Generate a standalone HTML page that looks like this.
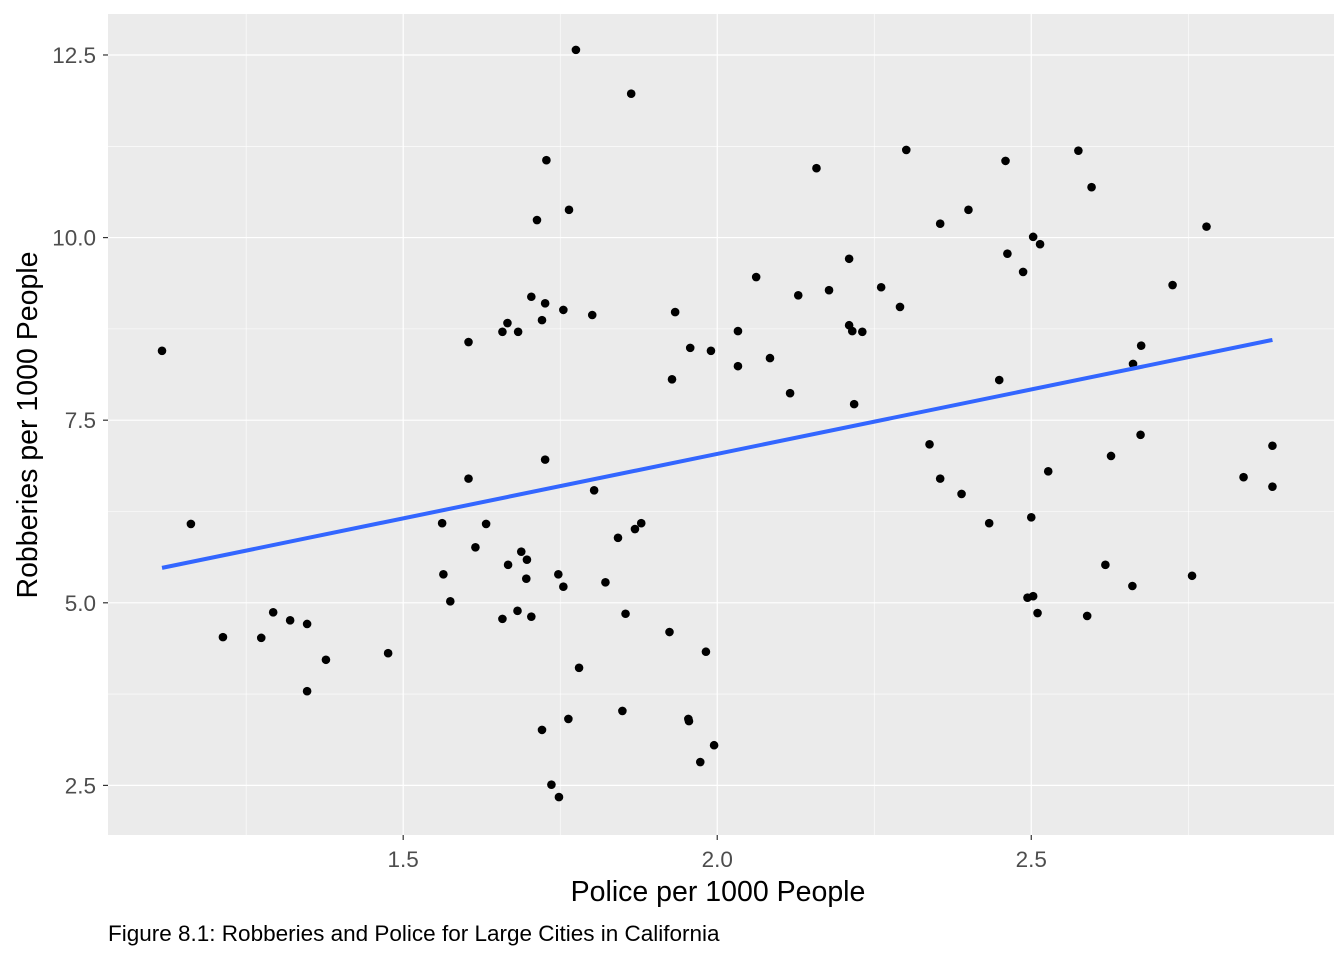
<!DOCTYPE html>
<html><head><meta charset="utf-8"><style>
html,body{margin:0;padding:0;background:#fff;}
svg{display:block;font-family:"Liberation Sans",Arial,sans-serif;}
</style></head><body>
<svg id="chart" width="1344" height="960">
<rect x="108" y="14" width="1226" height="821" fill="#ebebeb"/>
<g id="grid"></g><g id="pts"></g><g id="fit"></g><g id="axes"></g>
<text x="718" y="901" font-size="28.5" text-anchor="middle" fill="#000">Police per 1000 People</text>
<text transform="translate(37,425) rotate(-90)" font-size="28.5" text-anchor="middle" fill="#000">Robberies per 1000 People</text>
<text x="108" y="941" font-size="22.5" fill="#000">Figure 8.1: Robberies and Police for Large Cities in California</text>
</svg>
<script>
const police=[1.116,1.162,1.213,1.274,1.293,1.320,1.347,1.347,1.377,1.476,1.562,1.564,1.575,1.604,1.604,1.615,1.632,1.658,1.666,1.683,1.667,1.658,1.688,1.697,1.696,1.704,1.713,1.726,1.721,1.728,1.726,1.682,1.704,1.755,1.764,1.775,1.747,1.755,1.721,1.763,1.736,1.748,1.780,1.801,1.804,1.822,1.842,1.863,1.854,1.849,1.869,1.879,1.933,1.928,1.924,1.957,1.954,1.955,1.990,1.982,1.973,1.995,2.033,2.033,2.062,2.084,2.116,2.129,2.158,2.178,2.210,2.210,2.215,2.231,2.218,2.261,2.291,2.301,2.338,2.355,2.355,2.389,2.400,2.433,2.449,2.459,2.462,2.487,2.503,2.514,2.500,2.494,2.503,2.510,2.527,2.575,2.596,2.589,2.618,2.627,2.662,2.675,2.674,2.661,2.725,2.756,2.779,2.838,2.884,2.884];
const robberies=[8.45,6.08,4.53,4.52,4.87,4.76,4.71,3.79,4.22,4.31,6.09,5.39,5.02,8.57,6.70,5.76,6.08,8.71,8.83,8.71,5.52,4.78,5.70,5.59,5.33,9.19,10.24,9.10,8.87,11.06,6.96,4.89,4.81,9.01,10.38,12.57,5.39,5.22,3.26,3.41,2.51,2.34,4.11,8.94,6.54,5.28,5.89,11.97,4.85,3.52,6.01,6.09,8.98,8.06,4.60,8.49,3.41,3.38,8.45,4.33,2.82,3.05,8.72,8.24,9.46,8.35,7.87,9.21,10.95,9.28,9.71,8.80,8.72,8.71,7.72,9.32,9.05,11.20,7.17,10.19,6.70,6.49,10.38,6.09,8.05,11.05,9.78,9.53,10.01,9.91,6.17,5.07,5.09,4.86,6.80,11.19,10.69,4.82,5.52,7.01,8.27,8.52,7.30,5.23,9.35,5.37,10.15,6.72,7.15,6.59];
const xTicks=[1.5,2.0,2.5];
const xTickLabels=["1.5","2.0","2.5"];
const yTicks=[2.5,5.0,7.5,10.0,12.5];
const yTickLabels=["2.5","5.0","7.5","10.0","12.5"];
const NS="http://www.w3.org/2000/svg";
const X0=108,X1=1334,Y0=14,Y1=835,xmin=1.030,xmax=2.982,ymin=1.821,ymax=13.061;
const sx=v=>X0+(v-xmin)/(xmax-xmin)*(X1-X0);
const sy=v=>Y1-(v-ymin)/(ymax-ymin)*(Y1-Y0);
function mk(t,a,p){const e=document.createElementNS(NS,t);for(const k in a)e.setAttribute(k,a[k]);p.appendChild(e);return e;}
const grid=document.getElementById('grid'),axes=document.getElementById('axes');
for(let i=0;i<xTicks.length;i++){
  const m=mk('line',{x1:sx(xTicks[i]-0.25),x2:sx(xTicks[i]-0.25),y1:Y0,y2:Y1,stroke:'#fff','stroke-width':0.6},grid);
  
  if(i===xTicks.length-1){const m2=mk('line',{x1:sx(xTicks[i]+0.25),x2:sx(xTicks[i]+0.25),y1:Y0,y2:Y1,stroke:'#fff','stroke-width':0.6},grid);
  }
  const g=mk('line',{x1:sx(xTicks[i]),x2:sx(xTicks[i]),y1:Y0,y2:Y1,stroke:'#fff','stroke-width':1.2},grid);
  
  const t=mk('line',{x1:sx(xTicks[i]),x2:sx(xTicks[i]),y1:Y1,y2:Y1+5,stroke:'#333','stroke-width':1.2},axes);
  
  const l=mk('text',{x:sx(xTicks[i]),y:Y1+32,'font-size':22.5,'text-anchor':'middle',fill:'#4d4d4d'},axes);l.textContent=xTickLabels[i];
  
}
for(let i=0;i<yTicks.length;i++){
  const m=mk('line',{x1:X0,x2:X1,y1:sy(yTicks[i]-1.25),y2:sy(yTicks[i]-1.25),stroke:'#fff','stroke-width':0.6},grid);
  
  const g=mk('line',{x1:X0,x2:X1,y1:sy(yTicks[i]),y2:sy(yTicks[i]),stroke:'#fff','stroke-width':1.2},grid);
  
  const t=mk('line',{x1:X0-5,x2:X0,y1:sy(yTicks[i]),y2:sy(yTicks[i]),stroke:'#333','stroke-width':1.2},axes);
  
  const l=mk('text',{x:X0-12,y:sy(yTicks[i])+8,'font-size':22.5,'text-anchor':'end',fill:'#4d4d4d'},axes);l.textContent=yTickLabels[i];
  
}
const pts=document.getElementById('pts');
for(let i=0;i<police.length;i++){
  const c=mk('circle',{cx:sx(police[i]),cy:sy(robberies[i]),r:4.3,fill:'#000'},pts);
  
}
const n=police.length;let mx=0,my=0;for(let i=0;i<n;i++){mx+=police[i];my+=robberies[i];}mx/=n;my/=n;
let sxy=0,sxx=0;for(let i=0;i<n;i++){sxy+=(police[i]-mx)*(robberies[i]-my);sxx+=(police[i]-mx)**2;}
const b=sxy/sxx,a=my-b*mx;const lo=Math.min(...police),hi=Math.max(...police);
const f=mk('line',{x1:sx(lo),y1:sy(a+b*lo),x2:sx(hi),y2:sy(a+b*hi),stroke:'#3366ff','stroke-width':4},document.getElementById('fit'));

</script>
</body></html>
